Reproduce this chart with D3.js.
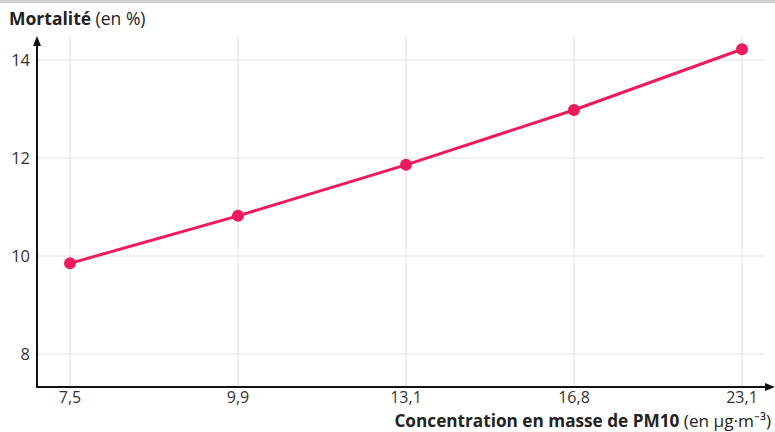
<!DOCTYPE html>
<html><head><meta charset="utf-8">
<script src="https://cdn.jsdelivr.net/npm/d3@7"></script>
<style>body{margin:0;background:#fff}svg{display:block;font-family:"Open Sans",sans-serif}</style>
</head><body><svg id="c" width="775" height="432"></svg>
<script>
const categories = ["7,5", "9,9", "13,1", "16,8", "23,1"];
const mortality = [9.85, 10.82, 11.86, 12.98, 14.22];
const yTicks = [8, 10, 12, 14];

const svg = d3.select("#c");
const W = 775, H = 432;
const axisX = 37, axisY = 387, gridTop = 36, gridRight = 765;

const x = d3.scalePoint().domain(categories).range([70, 742]);
const y = d3.scaleLinear().domain([8, 14]).range([354, 60]);

const color = "#ef1a5c";

// top border line
svg.append("line").attr("x1",0).attr("x2",W).attr("y1",1.5).attr("y2",1.5)
  .attr("stroke","#d0d0d0").attr("stroke-width",3);

// grid
svg.append("g").selectAll("line").data(yTicks).join("line")
  .attr("x1", axisX).attr("x2", gridRight)
  .attr("y1", d=>y(d)).attr("y2", d=>y(d))
  .attr("stroke","#e2e2e2").attr("stroke-width",1.2);
svg.append("g").selectAll("line").data(categories).join("line")
  .attr("x1", d=>x(d)).attr("x2", d=>x(d))
  .attr("y1", gridTop).attr("y2", axisY)
  .attr("stroke","#e2e2e2").attr("stroke-width",1.2);

// axes
svg.append("line").attr("x1",axisX).attr("x2",axisX).attr("y1",axisY+1).attr("y2",44)
  .attr("stroke","#111").attr("stroke-width",2);
svg.append("path").attr("d",`M${axisX-4},${46} L${axisX},${36} L${axisX+4},${46} Z`).attr("fill","#111");
svg.append("line").attr("x1",axisX-1).attr("x2",767).attr("y1",axisY).attr("y2",axisY)
  .attr("stroke","#111").attr("stroke-width",2);
svg.append("path").attr("d",`M${765},${axisY-4} L${775},${axisY} L${765},${axisY+4} Z`).attr("fill","#111");

// tick labels
svg.append("g").selectAll("text").data(yTicks).join("text")
  .attr("x", 30).attr("y", d=>y(d)+6).attr("text-anchor","end")
  .attr("font-size",16.5).attr("fill","#333").text(d=>d);
svg.append("g").selectAll("text").data(categories).join("text")
  .attr("x", d=>x(d)).attr("y", 403).attr("text-anchor","middle")
  .attr("font-size",16).attr("fill","#333").text(d=>d);

// titles
const t1 = svg.append("text").attr("x",9).attr("y",25).attr("font-size",17.5).attr("fill","#222");
t1.append("tspan").attr("font-weight","bold").text("Mortalité");
t1.append("tspan").text(" (en %)");
const t2 = svg.append("text").attr("x",771).attr("y",427).attr("text-anchor","end").attr("font-size",17.2).attr("fill","#222");
t2.append("tspan").attr("font-weight","bold").text("Concentration en masse de PM10");
t2.append("tspan").text(" (en µg·m⁻³)");

// line + points
const data = categories.map((c,i)=>({c, v: mortality[i]}));
svg.append("path").datum(data)
  .attr("d", d3.line().x(d=>x(d.c)).y(d=>y(d.v)))
  .attr("fill","none").attr("stroke",color).attr("stroke-width",3);
svg.append("g").selectAll("circle").data(data).join("circle")
  .attr("cx", d=>x(d.c)).attr("cy", d=>y(d.v)).attr("r",6).attr("fill",color);
</script></body></html>
